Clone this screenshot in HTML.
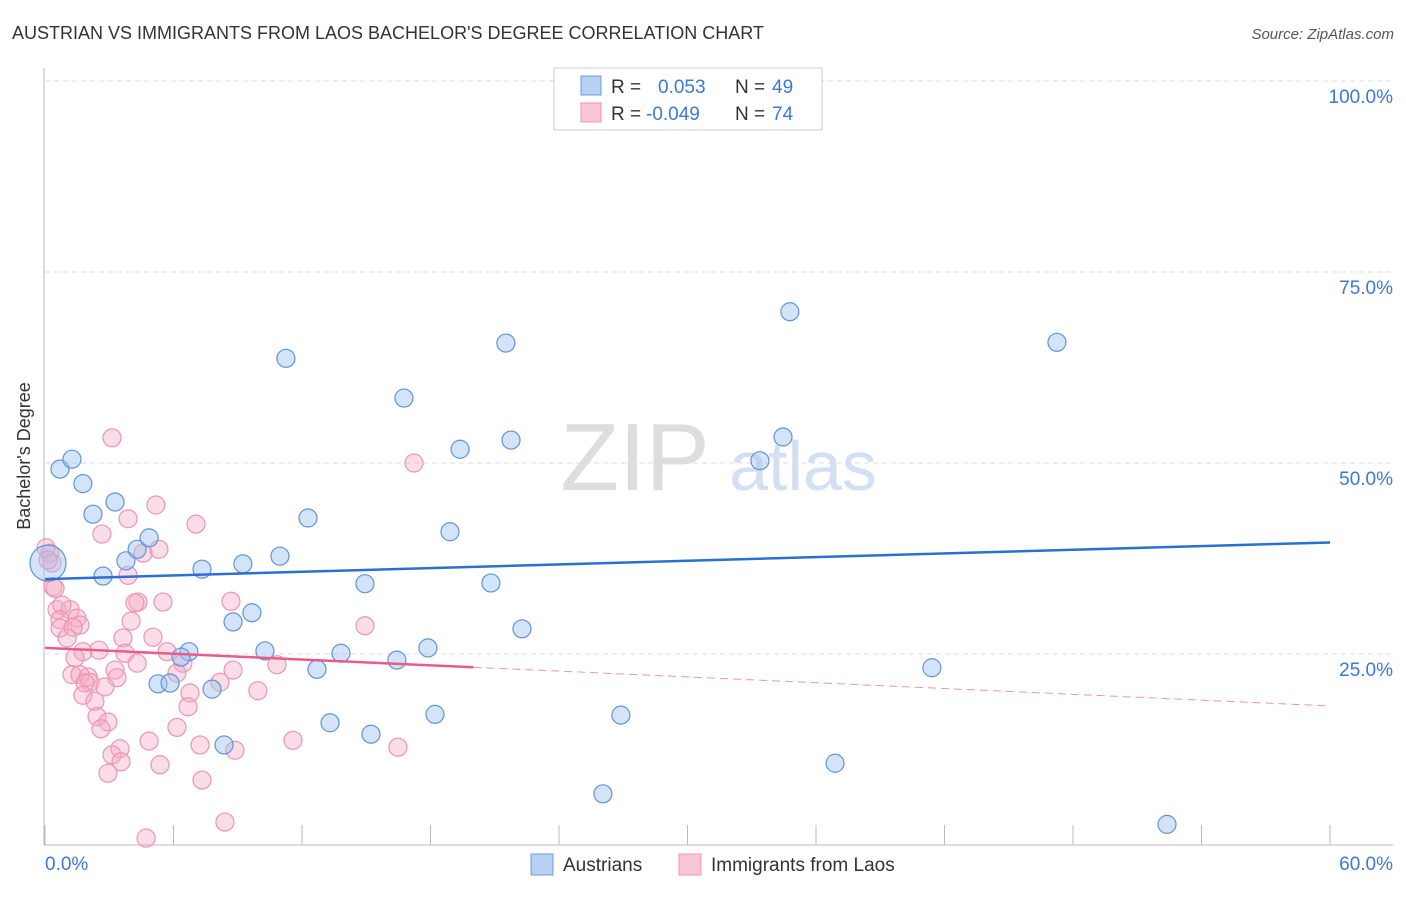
<!DOCTYPE html>
<html><head><meta charset="utf-8"><style>
body{margin:0;background:#fff;font-family:"Liberation Sans",sans-serif}
svg text{font-family:"Liberation Sans",sans-serif}
</style></head><body>
<svg id="chart" width="1406" height="892">
<text x="12" y="39" font-size="18" fill="#333">AUSTRIAN VS IMMIGRANTS FROM LAOS BACHELOR'S DEGREE CORRELATION CHART</text>
<text x="1394" y="39" font-size="15" fill="#555" text-anchor="end" font-style="italic">Source: ZipAtlas.com</text>
<text x="30" y="456" font-size="18" fill="#333" text-anchor="middle" transform="rotate(-90 30 456)">Bachelor's Degree</text>
<g><text x="635" y="490" font-size="96" fill="#ddd" font-family="Liberation Serif" text-anchor="middle">ZIP</text><text x="803" y="490" font-size="70" fill="#d3e0f3" text-anchor="middle">atlas</text></g>
<g id="grid"></g><g id="axes"></g><g id="pts"></g><g id="lines"></g>
<g>
<rect x="554" y="68" width="268" height="62" fill="#fff" stroke="#ccc"/>
<rect x="581" y="76" width="20" height="19" fill="#b8d0f2" stroke="#6a9be0"/>
<rect x="581" y="103" width="20" height="19" fill="#f9c6d5" stroke="#ee94b0"/>
<text x="611" y="93" font-size="19" fill="#333">R = </text><text x="658" y="93" font-size="19" fill="#3b78d8">0.053</text>
<text x="735" y="93" font-size="19" fill="#333">N = </text><text x="772" y="93" font-size="19" fill="#3b78d8">49</text>
<text x="611" y="120" font-size="19" fill="#333">R = </text><text x="646" y="120" font-size="19" fill="#3b78d8">-0.049</text>
<text x="735" y="120" font-size="19" fill="#333">N = </text><text x="772" y="120" font-size="19" fill="#3b78d8">74</text>
</g>
<g>
<rect x="531" y="854" width="22" height="21" fill="#b8d0f2" stroke="#6a9be0"/>
<text x="563" y="871" font-size="19" fill="#333">Austrians</text>
<rect x="679" y="854" width="22" height="21" fill="#f9c6d5" stroke="#ee94b0"/>
<text x="711" y="871" font-size="19" fill="#333">Immigrants from Laos</text>
</g>
</svg>
<script>
const yTicks=[100,75,50,25];
const yTickLabels=["100.0%","75.0%","50.0%","25.0%"];
const xTicks=[0,6,12,18,24,30,36,42,48,54,60];
const blueX=[0.14,0.70,1.26,1.77,2.24,2.71,3.27,3.78,4.30,4.86,5.28,5.84,6.72,6.35,7.33,7.80,8.36,8.78,9.24,9.66,10.27,10.97,11.25,12.28,12.70,13.31,13.82,14.94,15.22,16.43,16.76,17.88,18.21,18.91,19.38,20.82,21.52,21.76,22.27,26.05,26.89,27.87,33.38,34.46,34.78,36.89,41.41,47.25,52.39];
const blueY=[36.9,49.2,50.5,47.3,43.3,35.2,44.9,37.2,38.7,40.2,21.1,21.2,25.3,24.6,36.1,20.4,13.1,29.2,36.8,30.4,25.4,37.8,63.7,42.8,23.0,16.0,25.1,34.2,14.5,24.2,58.5,25.8,17.1,41.0,51.8,34.3,65.7,53.0,28.3,6.7,17.0,100.3,50.3,53.4,69.8,10.7,23.2,65.8,2.7];
const pinkX=[3.13,17.23,5.18,3.88,7.05,2.66,4.58,5.32,0.23,0.33,3.88,0.37,0.47,4.34,4.20,5.51,8.68,0.56,1.17,0.79,0.70,1.49,1.63,0.70,1.31,4.02,1.03,5.04,3.64,14.94,1.77,2.52,3.74,5.70,1.40,4.30,6.44,3.27,10.83,8.78,6.16,1.26,1.63,2.01,2.10,3.36,1.87,2.80,8.17,1.77,2.33,6.77,6.68,9.94,2.43,2.94,2.61,6.16,4.86,7.24,8.87,11.58,16.48,3.50,3.13,3.55,2.94,5.37,7.33,8.40,4.72,0.05,0.14];
const pinkY=[53.3,50.0,44.5,42.7,42.0,40.7,38.2,38.7,38.2,36.9,35.3,33.8,33.6,31.8,31.7,31.8,31.9,30.8,30.8,31.4,29.5,29.7,28.8,28.4,28.5,29.3,27.1,27.2,27.1,28.7,25.3,25.5,25.1,25.3,24.5,23.8,23.8,22.9,23.6,22.9,22.5,22.3,22.3,22.0,21.3,21.9,21.2,20.7,21.3,19.6,18.8,19.9,18.1,20.2,16.8,16.1,15.2,15.4,13.6,13.1,12.4,13.7,12.8,12.6,11.8,10.9,9.4,10.5,8.5,3.0,0.9,38.9,37.3];
const blueTrend=[34.8,39.6];
const pinkTrend=[25.8,18.2];
const pinkSolidEnd=20;
const NS='http://www.w3.org/2000/svg';
const sx=v=>45+v/60*1285, sy=v=>845-v/100*764;
function mk(t,a,p){const e=document.createElementNS(NS,t);for(const k in a)e.setAttribute(k,a[k]);document.getElementById(p).appendChild(e);return e;}
yTicks.forEach((t,i)=>{
 const g=mk('line',{x1:45,x2:1393,y1:sy(t),y2:sy(t),stroke:'#ddd','stroke-dasharray':'5,4'},'grid');
 
 
 const l=mk('text',{x:1393,y:sy(t)+22,'font-size':19,fill:'#3b78d8','text-anchor':'end'},'grid');l.textContent=yTickLabels[i];
 
 
});
mk('line',{x1:44,x2:44,y1:68,y2:845,stroke:'#bbb'},'axes');
mk('line',{x1:44,x2:1393,y1:845,y2:845,stroke:'#bbb'},'axes');
xTicks.forEach(t=>{const e=mk('line',{x1:sx(t),x2:sx(t),y1:825,y2:845,stroke:'#bbb'},'axes');
 
 });
let a=mk('text',{x:45,y:870,'font-size':19,fill:'#3b78d8'},'axes');a.textContent='0.0%';


a=mk('text',{x:1393,y:870,'font-size':19,fill:'#3b78d8','text-anchor':'end'},'axes');a.textContent='60.0%';


pinkX.forEach((x,i)=>{const c=mk('circle',{cx:sx(x),cy:sy(pinkY[i]),r:9,fill:'rgba(246,170,195,0.4)',stroke:'#ee94b0','stroke-width':1.2},'pts');
 
 });
blueX.forEach((x,i)=>{const c=mk('circle',{cx:sx(x),cy:sy(blueY[i]),r:i==0?18:9,fill:'rgba(160,195,240,0.45)',stroke:'#5f93dc','stroke-width':1.2},'pts');
 
 });
let L=mk('line',{x1:sx(0),y1:sy(blueTrend[0]),x2:sx(60),y2:sy(blueTrend[1]),stroke:'#2a6fd6','stroke-width':2.5},'lines');


const pm=pinkTrend[0]+(pinkTrend[1]-pinkTrend[0])*pinkSolidEnd/60;
L=mk('line',{x1:sx(0),y1:sy(pinkTrend[0]),x2:sx(pinkSolidEnd),y2:sy(pm),stroke:'#ea5a8a','stroke-width':2.5},'lines');


L=mk('line',{x1:sx(pinkSolidEnd),y1:sy(pm),x2:sx(60),y2:sy(pinkTrend[1]),stroke:'#ee94b0','stroke-width':1,'stroke-dasharray':'8,5'},'lines');


</script>
</body></html>
